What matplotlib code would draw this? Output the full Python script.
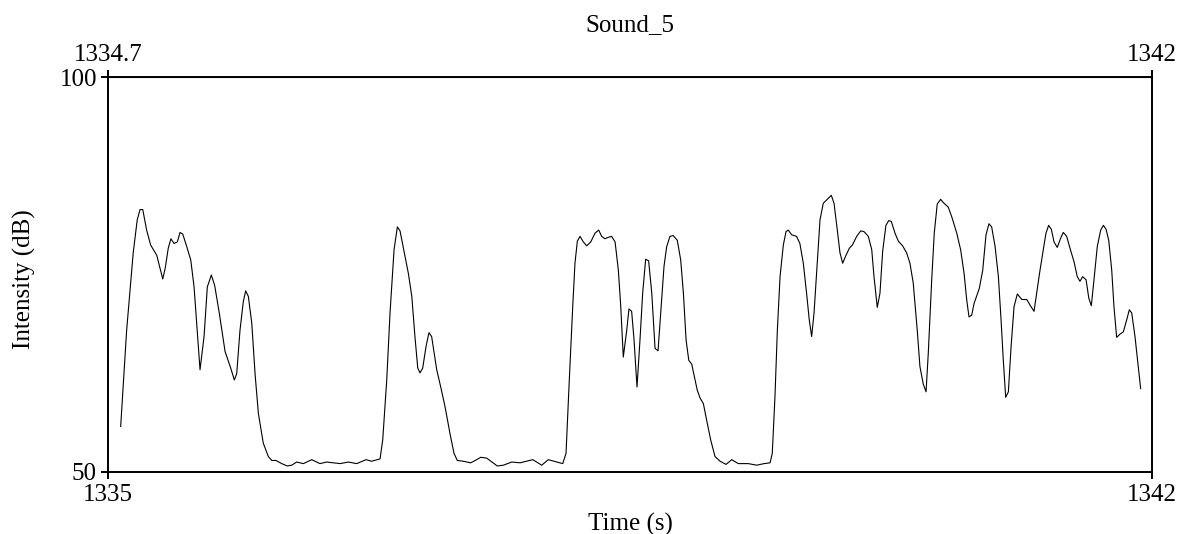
import numpy as np
import matplotlib
matplotlib.use("Agg")
import matplotlib.pyplot as plt

plt.rcParams["font.family"] = ["Liberation Serif", "DejaVu Serif"]

# intensity contour (time in s, intensity in dB)
time_s = [
    1335.085, 1335.125, 1335.169, 1335.196, 1335.215, 1335.233, 1335.259, 1335.286, 1335.327, 1335.367,
    1335.384, 1335.404, 1335.422, 1335.443, 1335.465, 1335.483, 1335.501, 1335.528, 1335.555, 1335.577,
    1335.617, 1335.644, 1335.666, 1335.693, 1335.715, 1335.746, 1335.785, 1335.823, 1335.847, 1335.863,
    1335.885, 1335.907, 1335.923, 1335.941, 1335.964, 1335.986, 1336.008, 1336.041, 1336.075, 1336.098,
    1336.126, 1336.165, 1336.202, 1336.232, 1336.265, 1336.310, 1336.366, 1336.421, 1336.466, 1336.556,
    1336.611, 1336.668, 1336.730, 1336.768, 1336.824, 1336.842, 1336.869, 1336.891, 1336.918, 1336.940,
    1336.958, 1336.985, 1337.014, 1337.037, 1337.058, 1337.077, 1337.092, 1337.110, 1337.132, 1337.152,
    1337.170, 1337.204, 1337.231, 1337.260, 1337.293, 1337.320, 1337.342, 1337.382, 1337.432, 1337.472,
    1337.499, 1337.539, 1337.610, 1337.651, 1337.707, 1337.763, 1337.848, 1337.908, 1337.952, 1338.009,
    1338.049, 1338.071, 1338.093, 1338.116, 1338.131, 1338.147, 1338.165, 1338.187, 1338.210, 1338.237,
    1338.265, 1338.290, 1338.310, 1338.332, 1338.357, 1338.377, 1338.400, 1338.422, 1338.438, 1338.455,
    1338.478, 1338.493, 1338.511, 1338.527, 1338.547, 1338.567, 1338.585, 1338.605, 1338.625, 1338.646,
    1338.668, 1338.688, 1338.706, 1338.728, 1338.746, 1338.768, 1338.790, 1338.817, 1338.840, 1338.858,
    1338.876, 1338.894, 1338.914, 1338.936, 1338.951, 1338.970, 1338.992, 1339.014, 1339.041, 1339.070,
    1339.104, 1339.144, 1339.182, 1339.226, 1339.293, 1339.350, 1339.399, 1339.439, 1339.454, 1339.472,
    1339.488, 1339.506, 1339.528, 1339.546, 1339.561, 1339.584, 1339.617, 1339.639, 1339.662, 1339.684,
    1339.702, 1339.718, 1339.734, 1339.752, 1339.774, 1339.796, 1339.823, 1339.850, 1339.868, 1339.890,
    1339.908, 1339.926, 1339.948, 1339.971, 1339.991, 1340.020, 1340.047, 1340.069, 1340.098, 1340.121,
    1340.136, 1340.158, 1340.176, 1340.194, 1340.216, 1340.235, 1340.252, 1340.277, 1340.299, 1340.328,
    1340.355, 1340.377, 1340.399, 1340.426, 1340.444, 1340.466, 1340.485, 1340.500, 1340.523, 1340.540,
    1340.560, 1340.583, 1340.600, 1340.634, 1340.657, 1340.691, 1340.717, 1340.740, 1340.758, 1340.773,
    1340.791, 1340.807, 1340.842, 1340.865, 1340.887, 1340.907, 1340.925, 1340.948, 1340.970, 1340.988,
    1341.003, 1341.019, 1341.037, 1341.055, 1341.075, 1341.097, 1341.127, 1341.160, 1341.182, 1341.209,
    1341.227, 1341.249, 1341.271, 1341.289, 1341.307, 1341.325, 1341.343, 1341.365, 1341.388, 1341.405,
    1341.428, 1341.450, 1341.477, 1341.499, 1341.517, 1341.535, 1341.558, 1341.576, 1341.593, 1341.611,
    1341.633, 1341.656, 1341.674, 1341.692, 1341.710, 1341.730, 1341.745, 1341.763, 1341.785, 1341.808,
    1341.830, 1341.848, 1341.864, 1341.886, 1341.908, 1341.924,
]
intensity_db = [
    55.7, 67.9, 77.7, 81.9, 83.2, 83.2, 80.6, 78.7, 77.4, 74.4,
    75.8, 78.3, 79.5, 78.9, 79.1, 80.3, 80.1, 78.5, 76.8, 73.4,
    62.9, 67.1, 73.4, 74.9, 73.6, 70.1, 65.2, 63.1, 61.6, 62.4,
    67.9, 71.5, 72.9, 72.2, 68.8, 62.4, 57.4, 53.6, 51.9, 51.4,
    51.4, 51.0, 50.7, 50.8, 51.2, 51.0, 51.5, 51.0, 51.2, 51.0,
    51.2, 51.0, 51.5, 51.3, 51.6, 54.0, 61.6, 70.1, 78.1, 81.0,
    80.5, 77.9, 75.1, 72.2, 67.1, 63.1, 62.5, 63.1, 65.8, 67.6,
    67.1, 62.9, 60.7, 58.2, 54.8, 52.3, 51.4, 51.3, 51.1, 51.5,
    51.8, 51.7, 50.7, 50.8, 51.2, 51.1, 51.5, 50.8, 51.5, 51.2,
    51.0, 52.3, 61.6, 70.9, 76.4, 79.2, 79.8, 79.1, 78.6, 79.1,
    80.2, 80.6, 79.8, 79.5, 79.7, 79.8, 79.1, 75.5, 70.9, 64.5,
    67.9, 70.6, 70.3, 66.7, 60.7, 66.7, 72.6, 76.9, 76.7, 72.6,
    65.6, 65.3, 70.1, 76.0, 78.5, 79.8, 79.9, 79.3, 76.8, 72.6,
    66.7, 64.1, 63.6, 61.6, 60.3, 59.3, 58.6, 56.5, 54.0, 51.9,
    51.3, 50.9, 51.5, 51.0, 51.0, 50.8, 51.0, 51.1, 52.3, 59.5,
    67.9, 74.7, 78.7, 80.4, 80.6, 80.0, 79.8, 78.9, 76.4, 72.6,
    69.2, 67.1, 70.1, 75.5, 81.9, 84.0, 84.5, 85.0, 84.0, 80.6,
    77.7, 76.4, 77.4, 78.3, 78.7, 79.8, 80.5, 80.4, 79.8, 78.1,
    74.7, 70.8, 72.6, 77.9, 81.2, 81.8, 81.7, 80.2, 79.2, 78.6,
    77.7, 76.4, 73.9, 67.9, 63.3, 61.1, 60.1, 65.0, 74.3, 80.2,
    83.9, 84.5, 84.1, 83.5, 82.3, 80.2, 78.1, 75.1, 71.7, 69.6,
    69.8, 71.3, 73.2, 75.5, 80.0, 81.4, 81.0, 78.5, 74.7, 69.2,
    64.1, 59.4, 60.1, 65.8, 70.9, 72.5, 71.8, 71.8, 71.1, 70.3,
    72.6, 75.5, 78.1, 80.2, 81.2, 80.7, 79.1, 78.4, 79.6, 80.3,
    79.8, 78.3, 76.6, 74.7, 74.1, 74.7, 74.3, 72.0, 71.0, 74.3,
    78.5, 80.6, 81.2, 80.7, 79.3, 75.5, 70.9, 67.0, 67.4, 67.7,
    69.2, 70.5, 70.1, 67.1, 63.3, 60.5,
]

x_ticks = [1335, 1342]
x_labels_bottom = ["1335", "1342"]
x_labels_top = ["1334.7", "1342"]
y_ticks = [50, 100]

FS = 18

fig = plt.figure(figsize=(11.78, 5.34), dpi=100)
ax = fig.add_axes([108 / 1178, 1 - 471.5 / 534, 1044 / 1178, 394.5 / 534])
ax.plot(time_s, intensity_db, color="black", lw=0.8)

ax.set_xlim(1335, 1342)
ax.set_ylim(50, 100)
for s in ax.spines.values():
    s.set_linewidth(1.4)

ax.set_xticks(x_ticks)
ax.set_xticklabels(x_labels_bottom, fontsize=FS)
ax.set_yticks(y_ticks)
ax.set_yticklabels([str(v) for v in y_ticks], fontsize=FS)
ax.tick_params(axis="both", direction="out", length=5, width=1.4)
ax.tick_params(axis="x", pad=4)
ax.tick_params(axis="y", pad=3)

top = ax.secondary_xaxis("top")
top.set_xticks(x_ticks)
top.set_xticklabels(x_labels_top, fontsize=FS)
top.tick_params(direction="out", length=5, width=1.4, pad=3)

# labels placed in figure pixels, as in the reference
fig.text(630 / 1178, 1 - 31 / 534, "Sound_5", ha="center", va="baseline", fontsize=FS)
fig.text(630 / 1178, 1 - 524 / 534, "Time (s)", ha="center", va="center", fontsize=FS)
fig.text(24 / 1178, 1 - 279 / 534, "Intensity (dB)", ha="center", va="center",
         rotation=90, fontsize=FS)

fig.savefig("out.png", dpi=100)
